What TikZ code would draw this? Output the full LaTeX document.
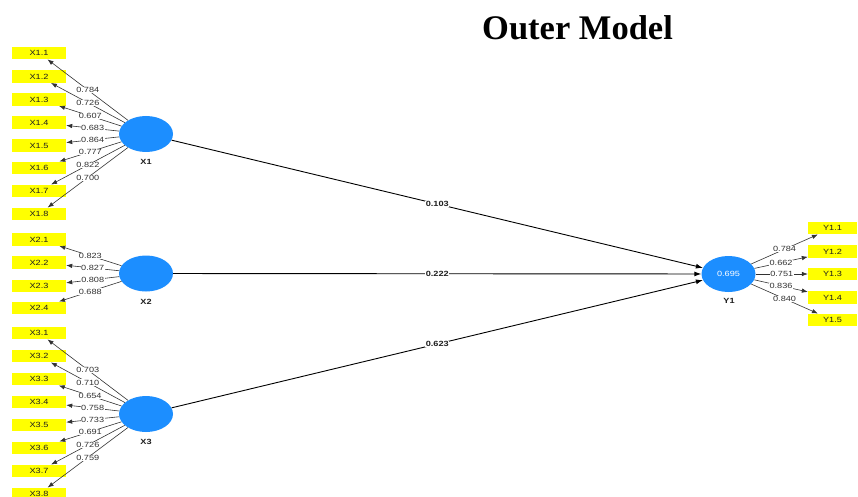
\documentclass[tikz,border=0pt]{standalone}
\usepackage{fontspec}
\setmainfont{Liberation Sans}
\newfontfamily\titlefont{Liberation Serif}
\usetikzlibrary{arrows.meta,shapes.geometric}
\definecolor{lvblue}{RGB}{28,142,255}
\definecolor{mvyellow}{RGB}{255,255,0}
\definecolor{txtgray}{RGB}{30,30,30}
\definecolor{lblgray}{RGB}{50,50,50}
\newcommand\sx[1]{\scalebox{1.22}[1]{#1}}
\tikzset{
  mv/.style={rectangle, fill=mvyellow, minimum width=54pt, minimum height=12.5pt, inner sep=0pt,
    font=\fontsize{7.5}{8}\selectfont, text=txtgray},
  mvy/.style={mv, minimum width=49pt},
  lv/.style={ellipse, fill=lvblue, minimum width=54pt, minimum height=36pt, inner sep=0pt},
  lvname/.style={font=\bfseries\fontsize{7.5}{8}\selectfont, text=txtgray},
  load/.style={draw=lblgray, line width=0.6pt, -{Latex[length=6pt,width=4.5pt]}},
  pathc/.style={draw=black, line width=0.9pt, -{Latex[length=7pt,width=5pt]}},
  lbl/.style={fill=white, inner sep=0.4pt, font=\fontsize{7.5}{8}\selectfont, text=lblgray},
  plbl/.style={fill=white, inner sep=0.6pt, font=\bfseries\fontsize{7.5}{8}\selectfont, text=txtgray}
}
\begin{document}
\begin{tikzpicture}[x=1pt,y=-1pt]
\useasboundingbox (0,0) rectangle (858,497);
\node[font=\titlefont\bfseries\fontsize{34.5}{40}\selectfont, anchor=base] (title) at (577.5,40) {Outer Model};

% latent variables
\node[lv] (X1) at (146,134) {};
\node[lv] (X2) at (146,273.5) {};
\node[lv] (X3) at (146,414) {};
\node[lv, font=\fontsize{7.5}{8}\selectfont, text=white] (Y1) at (728.5,274) {\sx{0.695}};
\node[lvname] (X1n) at (146,162) {\sx{X1}};
\node[lvname] (X2n) at (146,302) {\sx{X2}};
\node[lvname] (X3n) at (146,442) {\sx{X3}};
\node[lvname] (Y1n) at (729,301) {\sx{Y1}};

% indicators
\foreach \i/\y in {1/53,2/76.5,3/99.5,4/122.5,5/145.5,6/168,7/191,8/214}
  \node[mv] (X1b\i) at (39,\y) {\sx{X1.\i}};
\foreach \i/\y in {1/239.5,2/262.5,3/286,4/308}
  \node[mv] (X2b\i) at (39,\y) {\sx{X2.\i}};
\foreach \i/\y in {1/333,2/356,3/379,4/402,5/425,6/448,7/471,8/494}
  \node[mv] (X3b\i) at (39,\y) {\sx{X3.\i}};
\foreach \i/\y in {1/228,2/251.5,3/274,4/297.5,5/320}
  \node[mvy] (Y1b\i) at (832.5,\y) {\sx{Y1.\i}};

% loading arrows
\foreach \i in {1,...,8} \draw[load] (X1) -- (X1b\i);
\foreach \i in {1,...,4} \draw[load] (X2) -- (X2b\i);
\foreach \i in {1,...,8} \draw[load] (X3) -- (X3b\i);
\foreach \i in {1,...,5} \draw[load] (Y1) -- (Y1b\i);

% structural paths
\draw[pathc] (X1) -- (Y1);
\draw[pathc] (X2) -- (Y1);
\draw[pathc] (X3) -- (Y1);

% labels
\foreach \i/\v in {1/0.784,2/0.726,3/0.607,4/0.683,5/0.864,6/0.777,7/0.822,8/0.700}
  \path (X1) -- (X1b\i) node[lbl,pos=0.5] {\sx{\v}};
\foreach \i/\v in {1/0.823,2/0.827,3/0.808,4/0.688}
  \path (X2) -- (X2b\i) node[lbl,pos=0.5] {\sx{\v}};
\foreach \i/\v in {1/0.703,2/0.710,3/0.654,4/0.758,5/0.733,6/0.691,7/0.726,8/0.759}
  \path (X3) -- (X3b\i) node[lbl,pos=0.5] {\sx{\v}};
\foreach \i/\v in {1/0.784,2/0.662,3/0.751,4/0.836,5/0.840}
  \path (Y1) -- (Y1b\i) node[lbl,pos=0.5] {\sx{\v}};
\path (X1) -- (Y1) node[plbl,pos=0.5] {\sx{0.103}};
\path (X2) -- (Y1) node[plbl,pos=0.5] {\sx{0.222}};
\path (X3) -- (Y1) node[plbl,pos=0.5] {\sx{0.623}};
\end{tikzpicture}
\end{document}
